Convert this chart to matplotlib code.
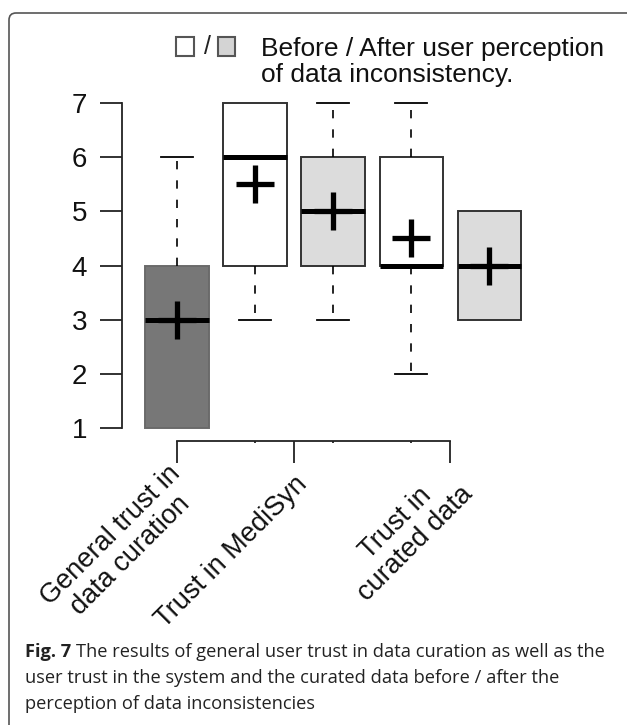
import matplotlib
matplotlib.use('Agg')
import matplotlib.pyplot as plt
import matplotlib.transforms as mtransforms
from matplotlib.patches import Rectangle, FancyBboxPatch

# box summary values (Likert 1..7)
positions = [1, 2, 3, 4, 5]
q1 = [1, 4, 4, 4, 3]
medians = [3, 6, 5, 4, 4]
q3 = [4, 7, 6, 6, 5]
whislo = [1, 3, 3, 2, 3]
whishi = [6, 7, 7, 7, 5]
means = [3.0, 5.5, 5.0, 4.5, 4.0]
fills = ['#777777', 'white', '#dcdcdc', 'white', '#dcdcdc']

group_ticks = [1, 2.5, 4.5]
group_labels = ['General trust in\ndata curation', 'Trust in MediSyn', 'Trust in\ncurated data']
yticks = [1, 2, 3, 4, 5, 6, 7]

legend_line1 = 'Before / After user perception'
legend_line2 = 'of data inconsistency.'
caption_bold = 'Fig. 7'
caption_lines = ['The results of general user trust in data curation as well as the',
                 'user trust in the system and the curated data before / after the',
                 'perception of data inconsistencies']

plt.rcParams['font.family'] = ['Liberation Sans', 'DejaVu Sans']

W, H = 627, 725
fig = plt.figure(figsize=(W / 100, H / 100), dpi=100)
inch = fig.dpi_scale_trans


def fx(x):
    return x / W


def fy(y):
    return 1 - y / H


# rounded frame around the panel (cut off at right and bottom)
frame = FancyBboxPatch((0.09, -0.3), 7.0, (H - 13) / 100 + 0.3,
                       boxstyle='round,pad=0,rounding_size=0.07', transform=inch,
                       fill=False, edgecolor='#555555', linewidth=1.2)
fig.add_artist(frame)

ax = fig.add_axes([fx(122), fy(441), (536 - 122) / W, (441 - 97.6) / H])

stats = []
for i in range(len(positions)):
    stats.append(dict(med=medians[i], q1=q1[i], q3=q3[i],
                      whislo=whislo[i], whishi=whishi[i], mean=means[i]))

bp = ax.bxp(stats, positions=positions, widths=0.81, capwidths=0.41,
            patch_artist=True, showmeans=True, showfliers=False,
            boxprops=dict(edgecolor='#333333', linewidth=1.4),
            medianprops=dict(color='black', linewidth=3.6, solid_capstyle='butt'),
            whiskerprops=dict(color='black', linewidth=1.2, linestyle=(0, (5.0, 6.6))),
            capprops=dict(color='black', linewidth=1.3),
            meanprops=dict(marker='+', markersize=27, markeredgewidth=3.8,
                           markeredgecolor='black'))

for patch, c in zip(bp['boxes'], fills):
    patch.set_facecolor(c)
bp['boxes'][0].set_edgecolor('#6a6a6a')

# no whisker/cap where it coincides with the box edge
for i in range(len(positions)):
    if whislo[i] == q1[i]:
        bp['whiskers'][2 * i].set_visible(False)
        bp['caps'][2 * i].set_visible(False)
    if whishi[i] == q3[i]:
        bp['whiskers'][2 * i + 1].set_visible(False)
        bp['caps'][2 * i + 1].set_visible(False)

ax.set_xlim(0.295, 5.6)
ax.set_ylim(0.76, 7.1)
ax.spines['top'].set_visible(False)
ax.spines['right'].set_visible(False)
ax.spines['left'].set_bounds(1, 7)
ax.spines['bottom'].set_bounds(group_ticks[0], group_ticks[-1])
for s in ['left', 'bottom']:
    ax.spines[s].set_linewidth(1.3)
    ax.spines[s].set_color('#222222')

ax.set_yticks(yticks)
ax.tick_params(axis='y', length=16, width=1.3, pad=9, labelsize=20, color='#222222',
               labelcolor='#111111')
ax.set_xticks(group_ticks)
ax.set_xticklabels([])
ax.set_xticks([2, 3, 4], minor=True)
ax.tick_params(axis='x', which='major', length=16, width=1.3, color='#222222')
ax.tick_params(axis='x', which='minor', length=1.5, width=1.3, color='#222222')

lab_trans = mtransforms.offset_copy(ax.get_xaxis_transform(), fig=fig, x=9, y=-39, units='dots')
for t, lab in zip(group_ticks, group_labels):
    ax.text(t, 0, lab, transform=lab_trans, rotation=45, rotation_mode='anchor',
            ha='right', va='center', multialignment='center', fontsize=19.5,
            linespacing=1.1, color='#111111')

# legend squares + text
fig.add_artist(Rectangle((176 / 100, (H - 56) / 100), 0.18, 0.19, transform=inch,
                         facecolor='white', edgecolor='#555555', linewidth=1.5))
fig.text(fx(207), fy(47), '/', fontsize=18, ha='center', va='center', color='#222222')
fig.add_artist(Rectangle((218 / 100, (H - 56) / 100), 0.17, 0.19, transform=inch,
                         facecolor='#d4d4d4', edgecolor='#555555', linewidth=1.5))
fig.text(fx(261), fy(56), legend_line1, fontsize=19, va='baseline', color='#111111')
fig.text(fx(261), fy(82), legend_line2, fontsize=19, va='baseline', color='#111111')

# caption
cap_font = dict(family='Open Sans', fontsize=13.15, va='baseline', color='#222222')
tb = fig.text(fx(25), fy(657), caption_bold, fontweight='bold', **cap_font)
renderer = fig.canvas.get_renderer()
x1 = tb.get_window_extent(renderer).x1
fig.text((x1 + 5) / W, fy(657), caption_lines[0], **cap_font)
fig.text(fx(25), fy(683), caption_lines[1], **cap_font)
fig.text(fx(25), fy(709), caption_lines[2], **cap_font)

fig.savefig('out.png', dpi=100)
plt.close(fig)
